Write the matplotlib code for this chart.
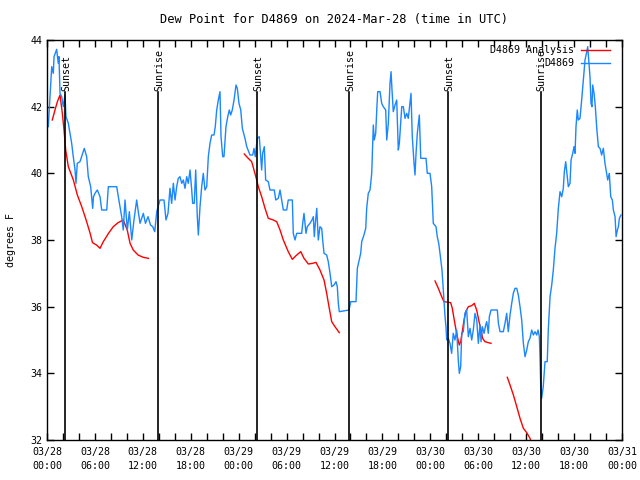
import numpy as np
import matplotlib
matplotlib.use("Agg")
from matplotlib import pyplot as plt
from matplotlib.lines import Line2D

plt.rcParams['font.family'] = ['DejaVu Sans Mono']
plt.rcParams['font.size'] = 7.2

## 观测值 (hours since 03/28 00:00 UTC, deg F)
obs_hours = [0.16, 0.38, 0.59, 0.79, 0.88, 1.21, 1.41, 1.5, 1.63, 1.84, 2.04, 2.25, 2.38, 2.67, 2.88,
             3.09, 3.29, 3.51, 3.63, 3.79, 4.13, 4.47, 4.67, 4.97, 5.17, 5.47, 5.72, 5.82, 6.01, 6.3,
             6.64, 6.85, 7.48, 7.68, 8.73, 8.93, 9.35, 9.55, 9.77, 10.06, 10.31, 10.61, 10.89, 11.23,
             11.4, 11.65, 12.06, 12.33, 12.65, 12.96, 13.24, 13.49, 13.74, 14.15, 14.65, 14.9, 15.15,
             15.4, 15.61, 15.82, 16.03, 16.24, 16.44, 16.65, 16.87, 17.07, 17.28, 17.49, 17.69, 17.91,
             18.12, 18.24, 18.44, 18.62, 18.82, 18.95, 19.16, 19.37, 19.57, 19.78, 20.0, 20.2, 20.41,
             20.62, 20.91, 21.07, 21.25, 21.45, 21.66, 21.79, 22.0, 22.16, 22.41, 22.63, 22.83, 23.0,
             23.2, 23.42, 23.67, 23.83, 24.04, 24.26, 24.46, 24.79, 25.01, 25.42, 25.76, 25.92, 26.08,
             26.33, 26.58, 26.88, 27.0, 27.21, 27.38, 27.71, 27.92, 28.46, 28.64, 28.96, 29.18, 29.39,
             29.59, 30.01, 30.21, 30.72, 30.84, 31.05, 31.27, 31.89, 32.02, 32.18, 32.43, 32.59, 32.93,
             33.18, 33.35, 33.47, 33.6, 33.78, 33.97, 34.18, 34.4, 34.52, 34.69, 35.02, 35.22, 35.44,
             35.65, 35.94, 36.19, 36.35, 36.48, 36.6, 37.82, 38.03, 38.69, 38.86, 39.28, 39.41, 39.69,
             39.91, 40.03, 40.23, 40.45, 40.66, 40.78, 40.86, 40.98, 41.16, 41.29, 41.41, 41.7, 41.91,
             42.11, 42.41, 42.54, 42.74, 42.95, 43.08, 43.2, 43.36, 43.58, 43.79, 43.99, 44.12, 44.29,
             44.42, 44.62, 44.83, 45.04, 45.24, 45.45, 45.58, 45.74, 45.96, 46.08, 46.21, 46.37, 46.62,
             46.8, 47.46, 47.62, 47.96, 48.17, 48.37, 48.71, 48.87, 49.05, 49.21, 49.46, 49.62, 49.75,
             49.84, 49.96, 50.05, 50.25, 50.46, 50.67, 50.87, 51.08, 51.3, 51.5, 51.63, 51.8, 51.93,
             52.13, 52.34, 52.55, 52.76, 52.97, 53.18, 53.38, 53.59, 53.81, 54.01, 54.22, 54.35, 54.51,
             54.73, 54.93, 55.06, 55.26, 55.39, 55.6, 56.39, 56.52, 56.73, 57.14, 57.35, 57.56, 57.76,
             57.98, 58.19, 58.39, 58.6, 58.82, 59.02, 59.23, 59.44, 59.65, 59.86, 60.07, 60.27, 60.48,
             60.69, 60.9, 61.11, 61.32, 61.49, 61.65, 61.73, 61.82, 61.94, 62.14, 62.36, 62.64, 62.77,
             62.99, 63.2, 63.4, 63.61, 63.82, 64.03, 64.24, 64.45, 64.65, 64.78, 64.95, 65.08, 65.28,
             65.49, 65.62, 65.83, 65.99, 66.12, 66.24, 66.4, 66.53, 66.74, 66.95, 67.16, 67.37, 67.58,
             67.71, 67.87, 67.99, 68.12, 68.24, 68.33, 68.5, 68.66, 68.84, 69.04, 69.25, 69.45, 69.66,
             69.87, 70.08, 70.21, 70.41, 70.59, 70.79, 70.92, 71.13, 71.26, 71.42, 71.55, 71.67, 71.87]
obs_dewp = [41.4, 42.3, 43.2, 43.0, 43.5, 43.72, 43.3, 43.5, 42.4, 42.3, 42.0, 42.35, 41.7, 41.5, 41.2,
            40.9, 40.5, 40.1, 39.7, 40.3, 40.35, 40.6, 40.75, 40.5, 39.9, 39.6, 38.95, 39.3, 39.4, 39.5,
            39.3, 38.9, 38.9, 39.6, 39.6, 39.3, 38.7, 38.3, 39.2, 38.3, 38.85, 38.0, 38.6, 39.2,
            38.9, 38.5, 38.8, 38.5, 38.7, 38.45, 38.4, 38.25, 38.85, 39.2, 39.2, 38.6, 38.8,
            39.55, 39.1, 39.7, 39.2, 39.6, 39.85, 39.9, 39.7, 39.8, 39.55, 39.9, 39.7, 40.1,
            39.5, 39.1, 39.1, 40.1, 38.7, 38.15, 39.0, 39.6, 40.0, 39.5, 39.6, 40.5, 40.9,
            41.15, 41.15, 41.4, 41.9, 42.2, 42.45, 41.1, 40.5, 40.5, 41.4, 41.7, 41.9, 41.75,
            41.9, 42.2, 42.65, 42.55, 42.1, 41.9, 41.35, 41.05, 40.8, 40.55, 40.55, 40.75, 40.5,
            41.05, 41.1, 40.1, 40.6, 40.8, 39.8, 39.75, 39.5, 39.5, 39.2, 39.25, 39.5, 39.2,
            38.9, 38.9, 39.2, 39.2, 38.2, 38.0, 38.2, 38.2, 38.5, 38.8, 38.2, 38.4, 38.5,
            38.6, 38.7, 38.1, 38.5, 38.95, 38.0, 38.4, 38.35, 38.0, 37.6, 37.55, 37.35, 37.0,
            36.6, 36.65, 36.75, 36.6, 36.1, 35.85, 35.9, 36.15, 36.15, 37.15, 37.6, 37.95, 38.15,
            38.35, 38.95, 39.4, 39.5, 40.0, 40.9, 41.45, 41.0, 41.2, 41.9, 42.45, 42.45, 42.1,
            42.0, 41.9, 41.0, 41.5, 42.7, 43.05, 42.5, 41.85, 42.05, 42.2, 40.7, 40.9, 41.5,
            42.0, 42.0, 41.65, 41.8, 41.65, 42.1, 42.4, 41.1, 40.3, 39.95, 40.6, 41.2, 41.75,
            40.45, 40.45, 40.0, 40.0, 39.6, 38.5, 38.4, 38.1, 37.9, 37.6, 37.1, 36.5, 36.0,
            35.7, 35.4, 35.0, 35.05, 34.9, 34.6, 35.2, 35.0, 35.3, 34.4, 34.0, 34.2, 35.2,
            35.25, 35.8, 35.9, 35.1, 35.35, 35.0, 35.3, 35.8, 35.6, 34.9, 35.45, 34.95, 35.4,
            35.2, 35.45, 35.55, 35.2, 35.7, 35.9, 35.9, 35.5, 35.25, 35.25, 35.5, 35.8, 35.25,
            35.75, 36.1, 36.4, 36.55, 36.55, 36.35, 36.0, 35.6, 34.9, 34.5, 34.7, 34.95, 35.05,
            35.3, 35.15, 35.25, 35.15, 35.3, 35.1, 34.5, 33.65, 33.25, 33.6, 34.35, 34.35, 35.3,
            36.3, 36.65, 37.1, 37.75, 38.2, 38.95, 39.45, 39.3, 39.55, 40.05, 40.35, 40.05, 39.6,
            39.7, 40.4, 40.6, 40.8, 40.6, 41.4, 41.9, 41.6, 41.65, 42.2, 42.8, 43.4, 43.65,
            43.8, 43.3, 42.9, 42.1, 42.0, 42.65, 42.4, 42.0, 41.35, 40.8, 40.75, 40.55, 40.75,
            40.3, 40.0, 39.8, 40.0, 39.3, 39.2, 38.9, 38.7, 38.1, 38.3, 38.4, 38.65, 38.75]

## 分析值, 分段 (NaN = gap)
ana_hours = [0.66, 1.0, 1.3, 1.63, 1.92, 2.13, 2.34, 2.67, 3.3, 3.8, 4.35, 4.9, 5.4, 5.7, 6.2, 6.64,
             7.05, 7.7, 8.3, 8.9, 9.55, 10.05, 10.4, 10.8, 11.4, 12.05, 12.7, 13.0,
             24.7, 25.2, 25.63, 25.92, 26.26, 26.46, 26.88, 27.3, 27.71, 28.34, 28.76, 29.18, 29.59,
             30.21, 30.72, 31.27, 31.77, 32.18, 32.72, 33.27, 33.68, 34.18, 34.69, 35.02, 35.31,
             35.65, 36.06, 36.6, 37.0,
             48.59, 49.0, 49.42, 49.71, 50.55, 50.75, 50.96, 51.18, 51.38, 51.63, 51.8, 52.0, 52.22,
             52.43, 52.76, 53.18, 53.5, 53.8, 54.1, 54.35, 54.55, 54.84, 55.26, 55.6, 56.0,
             57.64, 57.98, 58.4, 58.82, 59.23, 59.65, 60.07, 60.48, 60.8]
ana_dewp = [41.6, 41.9, 42.15, 42.35, 41.8, 41.3, 40.7, 40.2, 39.8, 39.35, 39.0, 38.6, 38.2, 37.92,
            37.85, 37.75, 37.95, 38.2, 38.4, 38.52, 38.6, 38.3, 37.9, 37.7, 37.55, 37.48, 37.45, np.nan,
            40.58, 40.45, 40.35, 40.1, 39.8, 39.6, 39.3, 38.95, 38.65, 38.6, 38.55, 38.3, 38.0,
            37.65, 37.42, 37.55, 37.65, 37.45, 37.28, 37.3, 37.33, 37.1, 36.8, 36.4, 36.0,
            35.55, 35.4, 35.22, np.nan,
            36.77, 36.55, 36.3, 36.15, 36.12, 35.95, 35.65, 35.35, 35.1, 34.85, 34.95, 35.25, 35.6,
            35.85, 36.0, 36.03, 36.1, 35.9, 35.55, 35.3, 35.05, 34.95, 34.92, 34.9, np.nan,
            33.88, 33.65, 33.35, 33.0, 32.65, 32.35, 32.22, 32.05, 31.8]

sun_hours = [2.25, 13.9, 26.3, 37.8, 50.2, 61.8]
sun_names = ['Sunset', 'Sunrise', 'Sunset', 'Sunrise', 'Sunset', 'Sunrise']

tick_hours = list(range(0, 73, 6))
tick_labels = ['03/28\n00:00', '03/28\n06:00', '03/28\n12:00', '03/28\n18:00',
               '03/29\n00:00', '03/29\n06:00', '03/29\n12:00', '03/29\n18:00',
               '03/30\n00:00', '03/30\n06:00', '03/30\n12:00', '03/30\n18:00', '03/31\n00:00']

BLUE = '#1a86ff'

fig = plt.figure(figsize=(6.4, 4.8), dpi=100)
ax = fig.add_axes([47/640, 40/480, 575/640, 400/480])

ax.plot(ana_hours, ana_dewp, color='red', lw=1.0)
ax.plot(obs_hours, obs_dewp, color=BLUE, lw=1.0)

line_top = 42.45
for h, name in zip(sun_hours, sun_names):
    ax.plot([h, h], [32, line_top], color='black', lw=1.2)
    ax.text(h + 0.15, line_top + 0.02, name, rotation=90, ha='center', va='bottom')

ax.set_xlim(0, 72)
ax.set_ylim(32, 44)
ax.set_xticks(tick_hours)
ax.set_xticklabels(tick_labels, linespacing=1.45)
ax.set_xticks(np.arange(0, 73, 2), minor=True)
ax.set_yticks(np.arange(32, 45, 2))
ax.tick_params(which='both', direction='in', top=True, right=True, length=5, width=1)
ax.tick_params(axis='x', pad=5)
ax.set_ylabel('degrees F', labelpad=10)
ax.set_title('Dew Point for D4869 on 2024-Mar-28 (time in UTC)', pad=12)
for s in ax.spines.values():
    s.set_linewidth(1.0)

## legend by hand (right aligned text like gnuplot)
for yy, lab, col in [(0.975, 'D4869 Analysis', 'red'), (0.9425, 'D4869', BLUE)]:
    ax.text(0.9165, yy, lab, transform=ax.transAxes, ha='right', va='center')
    ax.add_line(Line2D([0.9287, 0.9791], [yy, yy], transform=ax.transAxes, color=col, lw=1.0))

fig.savefig('out.png', dpi=100)
